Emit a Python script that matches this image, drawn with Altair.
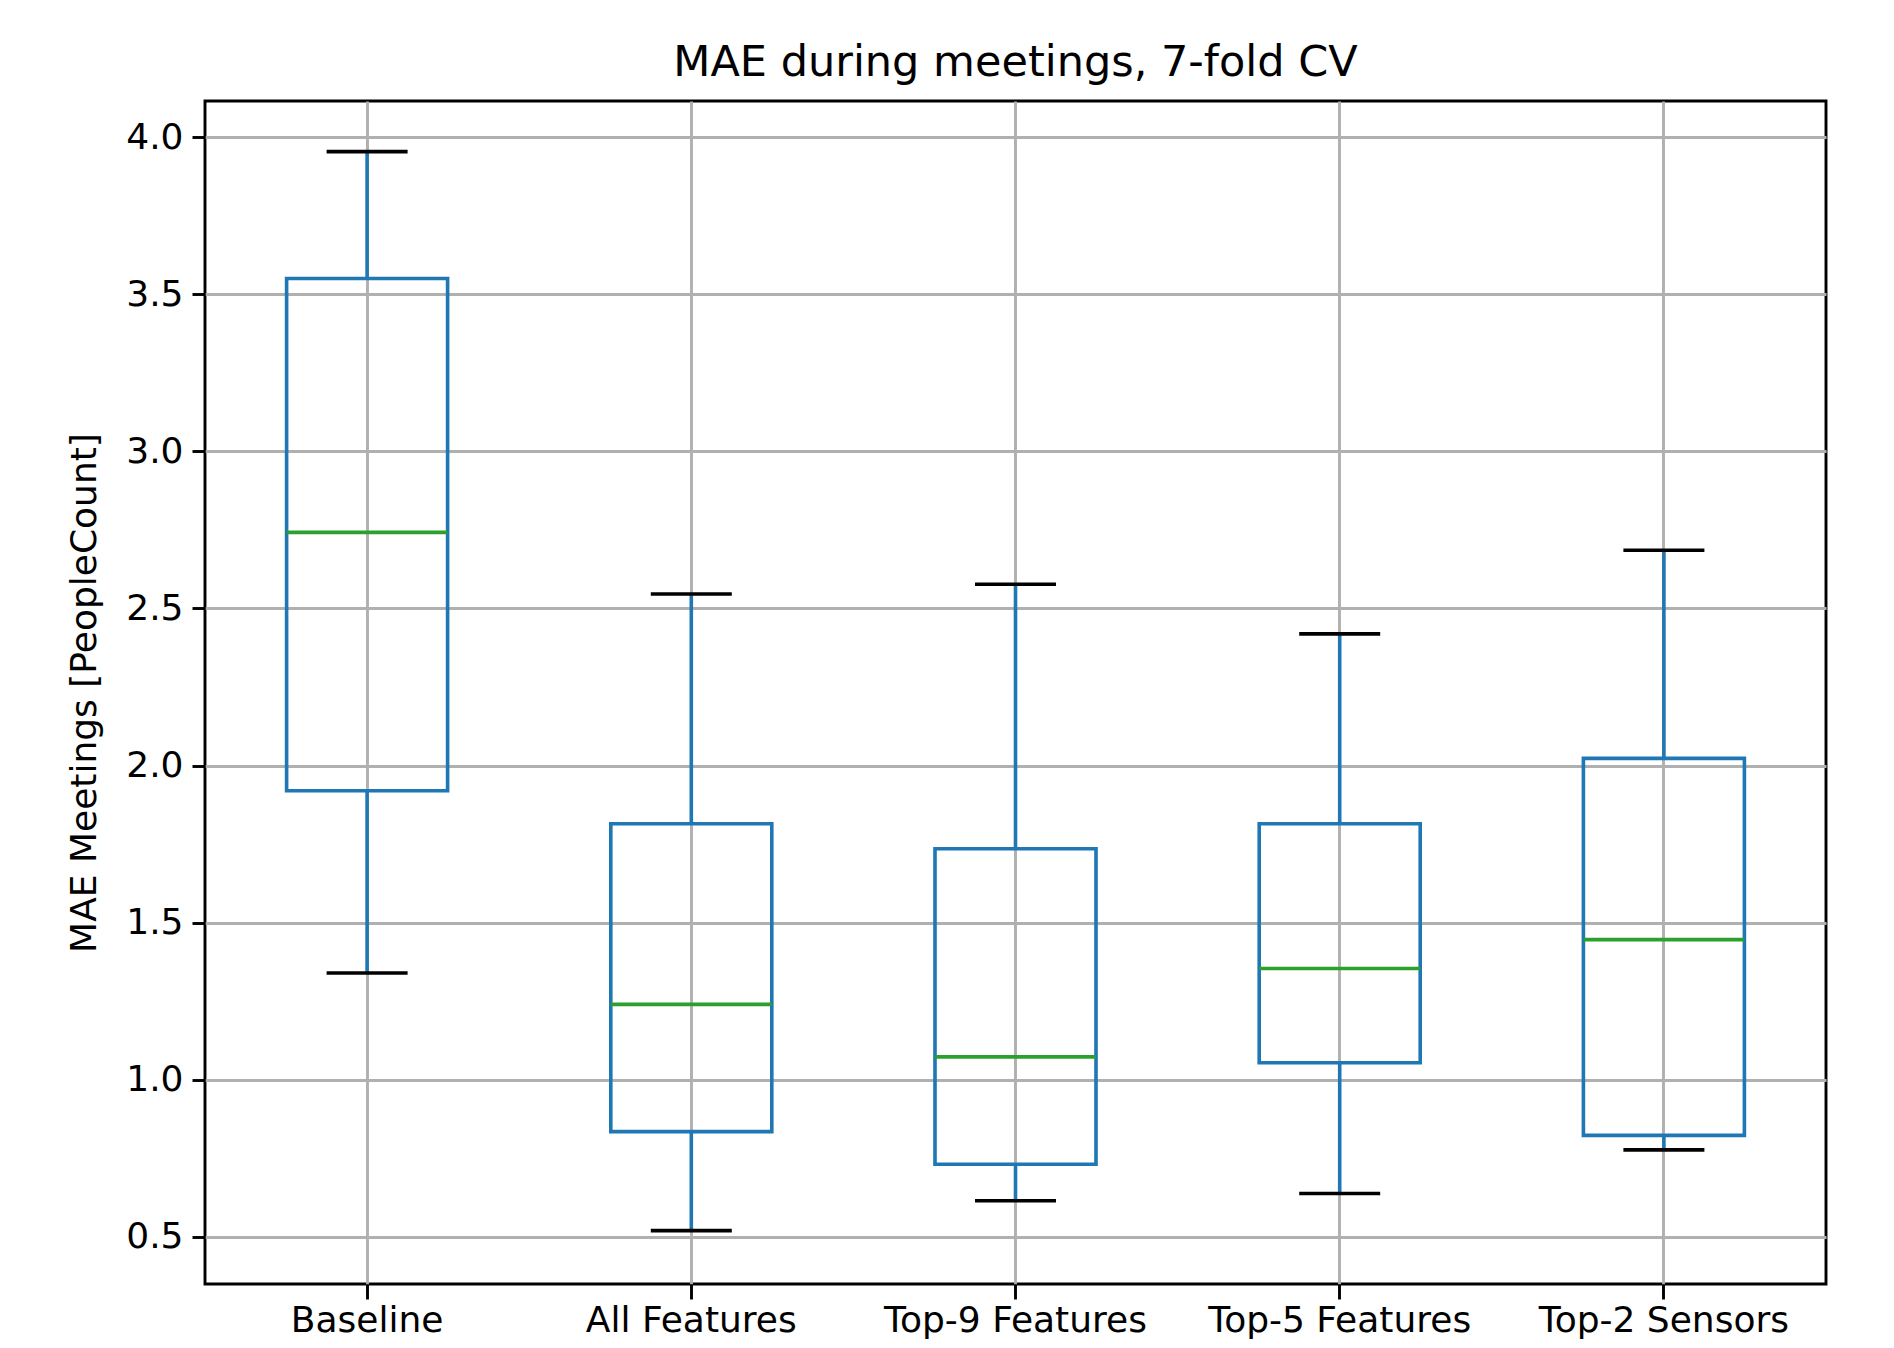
import altair as alt
import pandas as pd

categories = ["Baseline", "All Features", "Top-9 Features", "Top-5 Features", "Top-2 Sensors"]
whisker_low = [1.34, 0.52, 0.615, 0.638, 0.777]
q1 = [1.92, 0.835, 0.731, 1.054, 0.823]
median = [2.742, 1.24, 1.073, 1.354, 1.446]
q3 = [3.55, 1.815, 1.735, 1.815, 2.023]
whisker_high = [3.954, 2.546, 2.577, 2.419, 2.685]
y_ticks = [0.5, 1.0, 1.5, 2.0, 2.5, 3.0, 3.5, 4.0]

df = pd.DataFrame({
    "cat": categories, "low": whisker_low, "q1": q1, "med": median,
    "q3": q3, "high": whisker_high,
})

W, H = 1621, 1183
LW = 3.6

x = alt.X("cat:N", sort=categories, title=None,
          scale=alt.Scale(paddingInner=0, paddingOuter=0),
          axis=alt.Axis(labelAngle=0, bandPosition=0.5, labelPadding=4, labelLimit=0,
                        tickSize=15))
yscale = alt.Scale(domain=[0.35, 4.115], nice=False, zero=False)
yaxis = alt.Axis(values=y_ticks, format=".1f", title="MAE Meetings [PeopleCount]",
                 titleX=-121, titleY=H / 2, titleAngle=-90, titleAlign="center",
                 titleBaseline="middle", labelPadding=9, tickSize=13)

base = alt.Chart(df)

lower = base.mark_rule(color="#1f77b4", strokeWidth=LW).encode(
    x=x, y=alt.Y("low:Q", scale=yscale, axis=yaxis), y2="q1:Q")
upper = base.mark_rule(color="#1f77b4", strokeWidth=LW).encode(
    x=x, y=alt.Y("q3:Q", scale=yscale), y2="high:Q")
box = base.mark_bar(size=161, fill="white", fillOpacity=0, stroke="#1f77b4",
                    strokeWidth=LW).encode(x=x, y=alt.Y("q1:Q", scale=yscale), y2="q3:Q")
med = base.mark_tick(size=161, thickness=LW, color="#2ca02c", opacity=1).encode(
    x=x, y=alt.Y("med:Q", scale=yscale))
cap_lo = base.mark_tick(size=81, thickness=LW, color="black", opacity=1).encode(
    x=x, y=alt.Y("low:Q", scale=yscale))
cap_hi = base.mark_tick(size=81, thickness=LW, color="black", opacity=1).encode(
    x=x, y=alt.Y("high:Q", scale=yscale))

chart = alt.layer(lower, upper, box, med, cap_lo, cap_hi).properties(
    width=W, height=H,
    title=alt.TitleParams("MAE during meetings, 7-fold CV", fontSize=43,
                          font="DejaVu Sans", fontWeight="normal", color="black",
                          offset=16, anchor="middle"),
    autosize=alt.AutoSizeParams(type="none"),
    padding={"left": 197, "top": 93, "right": 30, "bottom": 56},
).configure_view(
    stroke="black", strokeWidth=2.9
).configure_axis(
    grid=True, gridColor="#b0b0b0", gridWidth=2.9, domain=False,
    tickColor="black", tickWidth=2.9,
    labelFont="DejaVu Sans", labelFontSize=36, labelColor="black",
    titleFont="DejaVu Sans", titleFontSize=36, titleFontWeight="normal", titleColor="black",
)

chart.save("out.html", embed_options={"renderer": "svg", "actions": False})
